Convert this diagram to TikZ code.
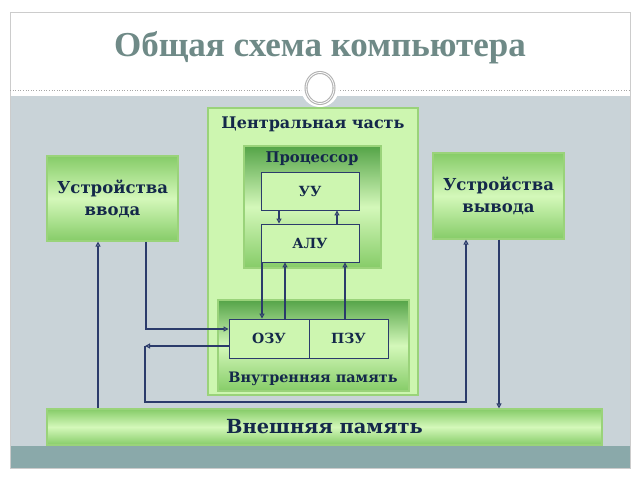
\documentclass[tikz,border=0pt]{standalone}
\usepackage{fontspec}
\setmainfont{DejaVu Serif}
\newfontfamily\titlefont{Liberation Serif}
\usetikzlibrary{arrows.meta}
\definecolor{navy}{HTML}{14284A}
\definecolor{conn}{HTML}{2B3B6B}
\definecolor{titlec}{HTML}{6F8A87}
\definecolor{slategray}{HTML}{C9D3D8}
\definecolor{stripc}{HTML}{8AA9AA}
\definecolor{lightg}{HTML}{CDF6B0}
\definecolor{borderg}{HTML}{9AD37A}
\definecolor{darkg}{HTML}{55A448}
\definecolor{midg}{HTML}{86CC68}
\definecolor{paleg}{HTML}{D4F8BA}
\tikzset{
  every node/.style={font=\bfseries, text=navy},
  grbox/.style={draw=borderg, line width=1.2pt, top color=midg, bottom color=midg, middle color=paleg, inner sep=0pt},
  grouphead/.style={draw=borderg, line width=1.2pt, top color=darkg, bottom color=midg, middle color=paleg, inner sep=0pt},
  cell/.style={draw=conn, line width=0.9pt, fill=lightg, inner sep=0pt, font=\bfseries\fontsize{14}{16}\selectfont},
  arr/.style={draw=conn, line width=1.1pt, -{Triangle[open, length=5pt, width=5pt]}},
}
\begin{document}
\begin{tikzpicture}[x=1pt,y=-1pt]
\useasboundingbox (0,0) rectangle (640,480);
\fill[white] (0,0) rectangle (640,480);
% slide background
\fill[slategray] (10,96) rectangle (630,446);
\fill[stripc] (10,446) rectangle (630,468);
\draw[gray!40, line width=0.8pt] (10,12) rectangle (630,468);
\draw[gray!70, dotted, line width=0.6pt] (10,90) -- (630,90);
\fill[white] (320,88) circle (19);
\draw[gray!60, line width=3pt] (320,88) ellipse (14 and 15.5);
\draw[white, line width=0.8pt] (320,88) ellipse (14 and 15.5);
\node[font=\titlefont\bfseries\fontsize{35}{40}\selectfont, text=titlec] (title) at (320,48) {Общая схема компьютера};

% central part
\node[draw=borderg, line width=1.5pt, fill=lightg, minimum width=210pt, minimum height=287pt, inner sep=0pt] (central) at (313,251.5) {};
\node[font=\bfseries\fontsize{16}{18}\selectfont] (centrallbl) at (313,124) {Центральная часть};

% processor
\node[grouphead, minimum width=137pt, minimum height=122pt] (proc) at (312.5,207) {};
\node[font=\bfseries\fontsize{14.8}{16}\selectfont] (proclbl) at (312,159) {Процессор};
\node[cell, minimum width=98pt, minimum height=38pt] (uu) at (310,191) {УУ};
\node[cell, minimum width=98pt, minimum height=38pt] (alu) at (310,243) {АЛУ};

% internal memory
\node[grouphead, minimum width=191pt, minimum height=91pt] (mem) at (313.5,345.5) {};
\node[font=\bfseries\fontsize{14.4}{16}\selectfont] (memlbl) at (313,379) {Внутренняя память};
\node[cell, minimum width=80pt, minimum height=39pt] (ozu) at (269,338.5) {ОЗУ};
\node[cell, minimum width=79pt, minimum height=39pt] (pzu) at (348.5,338.5) {ПЗУ};

% devices
\node[grbox, minimum width=131pt, minimum height=85pt, align=center, font=\bfseries\fontsize{16.5}{22}\selectfont] (in) at (112.5,198.5) {Устройства\\ввода};
\node[grbox, minimum width=131pt, minimum height=86pt, align=center, font=\bfseries\fontsize{16.5}{22}\selectfont] (out) at (498.5,196) {Устройства\\вывода};
\node[grbox, minimum width=555pt, minimum height=36pt, font=\bfseries\fontsize{19.4}{24}\selectfont] (ext) at (324.5,427) {Внешняя память};

% helper coordinates
\coordinate (x98) at (98,0);
\coordinate (x146) at (146,0);
\coordinate (x262) at (262,0);
\coordinate (x279) at (279,0);
\coordinate (x285) at (285,0);
\coordinate (x337) at (337,0);
\coordinate (x345) at (345,0);
\coordinate (x466) at (466,0);
\coordinate (x499) at (499,0);
\coordinate (y329) at (0,329);
\coordinate (y346) at (0,346);
\coordinate (cA) at (145,346);
\coordinate (cB) at (145,402);
\coordinate (cC) at (466,402);

% processor internal arrows
\draw[arr] (uu.south -| x279) -- (alu.north -| x279);
\draw[arr] (alu.north -| x337) -- (uu.south -| x337);
% processor <-> memory
\draw[arr] (alu.south -| x262) -- (ozu.north -| x262);
\draw[arr] (ozu.north -| x285) -- (alu.south -| x285);
\draw[arr] (pzu.north -| x345) -- (alu.south -| x345);
% input device -> ozu
\draw[arr] (in.south -| x146) -- (x146 |- y329) -- (ozu.west |- y329);
% ozu -> out
\draw[arr] (ozu.west |- y346) -- (cA);
\draw[arr] (cA) -- (cB) -- (cC) -- (out.south -| x466);
% external memory <-> devices
\draw[arr] (ext.north -| x98) -- (in.south -| x98);
\draw[arr] (out.south -| x499) -- (ext.north -| x499);
\end{tikzpicture}
\end{document}
